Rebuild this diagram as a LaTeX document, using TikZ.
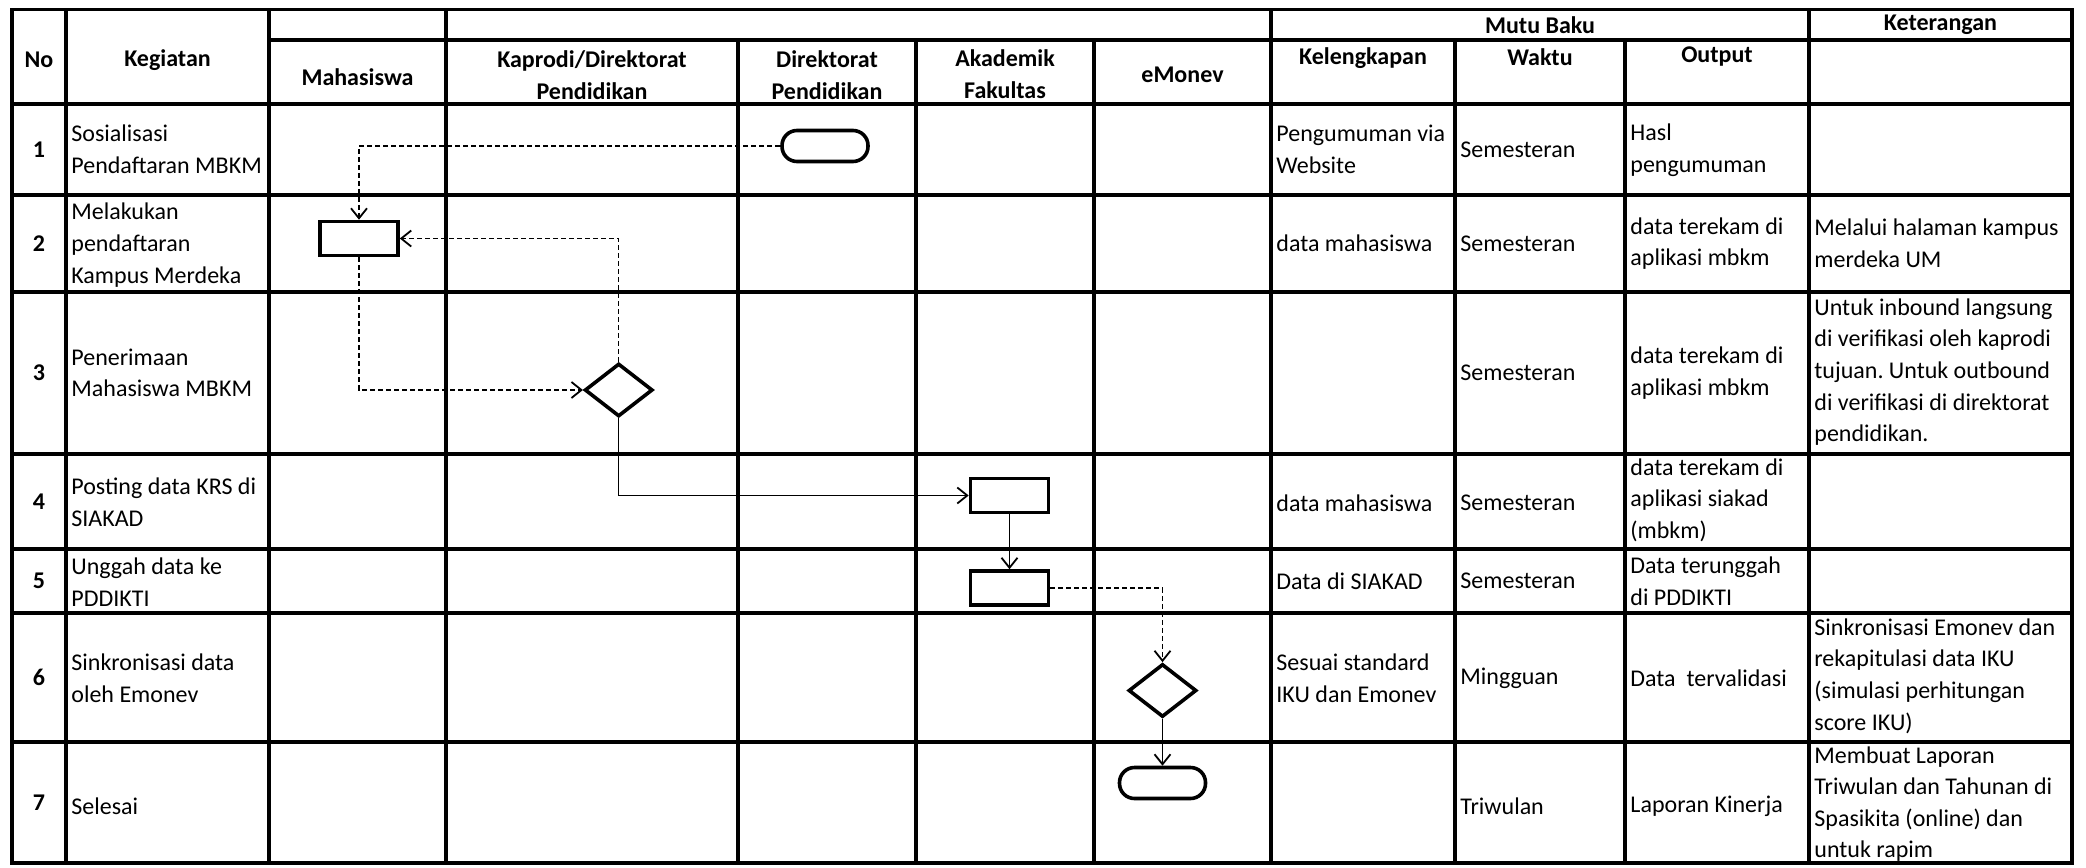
\documentclass[tikz,border=0pt]{standalone}
\usepackage{fontspec}
\setmainfont{Carlito}
\frenchspacing
\usetikzlibrary{arrows.meta,shapes.geometric}
\tikzset{
	tabline/.style={line width=1.6pt, line cap=rect},
	celltxt/.style={anchor=west, align=left, inner xsep=2.5pt, inner ysep=0pt, font=\fontsize{12}{15.8}\selectfont},
	headtxt/.style={align=center, inner sep=0pt, font=\fontsize{12}{15.8}\selectfont\bfseries},
	actbox/.style={draw, line width=1.8pt, minimum width=39pt, minimum height=17pt, inner sep=0pt},
	termbox/.style={draw, line width=1.8pt, rounded corners=7.5pt, minimum width=43pt, minimum height=15.5pt, inner sep=0pt},
	decbox/.style={draw, diamond, aspect=1.28, line width=1.8pt, minimum width=34pt, minimum height=26.5pt, inner sep=0pt},
	arrline/.style={line width=0.6pt, -{Straight Barb[length=5pt,width=8pt,line width=0.9pt]}},
	arrdot/.style={arrline, dash pattern=on 2.5pt off 1.5pt},
}

\begin{document}
\begin{tikzpicture}[x=0.5pt, y=-0.5pt]
			%%%%% START %%%%%
			\useasboundingbox (0, 0) rectangle (2086, 867);
			
			% tabel
			\draw[tabline] (12, 9.5) rectangle (2072, 863);
			\foreach \x in {66, 269, 446, 1271, 1809} \draw[tabline] (\x, 9.5) -- (\x, 863);
			\foreach \x in {738, 916, 1094, 1455, 1625} \draw[tabline] (\x, 40) -- (\x, 863);
			\draw[tabline] (269, 40) -- (2072, 40);
			\foreach \y in {104, 195, 292, 454, 549, 613, 742} \draw[tabline] (12, \y) -- (2072, \y);
			
			% judul kolom
			\node[headtxt] (hno) at (39, 60) {No};
			\node[headtxt] (hkeg) at (167.5, 60) {Kegiatan};
			\node[headtxt] (hmhs) at (357.5, 77) {Mahasiswa};
			\node[headtxt] (hkap) at (592, 75) {Kaprodi/Direktorat\\Pendidikan};
			\node[headtxt] (hdir) at (827, 75) {Direktorat\\Pendidikan};
			\node[headtxt] (hak) at (1005, 74) {Akademik\\Fakultas};
			\node[headtxt] (hemv) at (1182.5, 75) {eMonev};
			\node[headtxt] (hmutu) at (1540, 25) {Mutu Baku};
			\node[headtxt] (hket) at (1940.5, 25) {Keterangan};
			\node[headtxt] (hkel) at (1363, 58) {Kelengkapan};
			\node[headtxt] (hwkt) at (1540, 57) {Waktu};
			\node[headtxt] (hout) at (1717, 57) {Output};
			
			% nomor
			\foreach \i/\y in {1/149.5, 2/243.5, 3/373, 4/501.5, 5/581, 6/677.5, 7/802.5}
				\node[headtxt] (n\i) at (39, \y) {\i};
			
			% kegiatan
			\node[celltxt] (k1) at (66, 149.5) {Sosialisasi\\Pendaftaran MBKM};
			\node[celltxt] (k2) at (66, 245) {Melakukan\\pendaftaran\\Kampus Merdeka};
			\node[celltxt] (k3) at (66, 373) {Penerimaan\\Mahasiswa MBKM};
			\node[celltxt] (k4) at (66, 502) {Posting data KRS di\\SIAKAD};
			\node[celltxt] (k5) at (66, 582) {Unggah data ke\\PDDIKTI};
			\node[celltxt] (k6) at (66, 678) {Sinkronisasi data\\oleh Emonev};
			\node[celltxt] (k7) at (66, 806) {Selesai};
			
			% kelengkapan
			\node[celltxt] (kl1) at (1271, 149.5) {Pengumuman via\\Website};
			\node[celltxt] (kl2) at (1271, 243.5) {data mahasiswa};
			\node[celltxt] (kl4) at (1271, 503) {data mahasiswa};
			\node[celltxt] (kl5) at (1271, 581) {Data di SIAKAD};
			\node[celltxt] (kl6) at (1271, 678) {Sesuai standard\\IKU dan Emonev};
			
			% waktu
			\foreach \j/\y in {1/149.5, 2/243.5, 3/373, 4/503, 5/581}
				\node[celltxt] (w\j) at (1455, \y) {Semesteran};
			\node[celltxt] (w6) at (1455, 678) {Mingguan};
			\node[celltxt] (w7) at (1455, 806) {Triwulan};
			
			% output
			\node[celltxt] (o1) at (1625, 150) {Hasl\\pengumuman};
			\node[celltxt] (o2) at (1625, 243.5) {data terekam di\\aplikasi mbkm};
			\node[celltxt] (o3) at (1625, 373) {data terekam di\\aplikasi mbkm};
			\node[celltxt] (o4) at (1625, 500) {data terekam di\\aplikasi siakad\\(mbkm)};
			\node[celltxt] (o5) at (1625, 581) {Data terunggah\\di PDDIKTI};
			\node[celltxt] (o6) at (1625, 678) {Data\ \ tervalidasi};
			\node[celltxt] (o7) at (1625, 806) {Laporan Kinerja};
			
			% keterangan
			\node[celltxt] (ket2) at (1809, 243) {Melalui halaman kampus\\merdeka UM};
			\node[celltxt] (ket3) at (1809, 372) {Untuk inbound langsung\\di verifikasi oleh kaprodi\\tujuan. Untuk outbound\\di verifikasi di direktorat\\pendidikan.};
			\node[celltxt] (ket6) at (1809, 676) {Sinkronisasi Emonev dan\\rekapitulasi data IKU\\(simulasi perhitungan\\score IKU)};
			\node[celltxt] (ket7) at (1809, 804) {Membuat Laporan\\Triwulan dan Tahunan di\\Spasikita (online) dan\\untuk rapim};
			
			% alur
			\node[termbox] (mulai) at (825, 146) {};
			\node[actbox] (daftar) at (359, 238.5) {};
			\node[decbox] (verif) at (618.7, 390) {};
			\node[actbox] (krs) at (1009.5, 495.5) {};
			\node[actbox] (unggah) at (1009.5, 588) {};
			\node[decbox] (cek) at (1162.5, 690.5) {};
			\node[termbox] (selesai) at (1162.5, 783) {};
			
			\draw[arrdot] (mulai.west) -| (daftar.north);
			\draw[arrdot] (daftar.south) |- (verif.west);
			\draw[arrdot] (verif.north) |- (daftar.east);
			\draw[arrline] (verif.south) |- (krs.west);
			\draw[arrline] (krs.south) -- (unggah.north);
			\draw[arrdot] (unggah.east) -| (cek.north);
			\draw[arrline] (cek.south) -- (selesai.north);
			
			%%%%% END %%%%%
\end{tikzpicture}
\end{document}
